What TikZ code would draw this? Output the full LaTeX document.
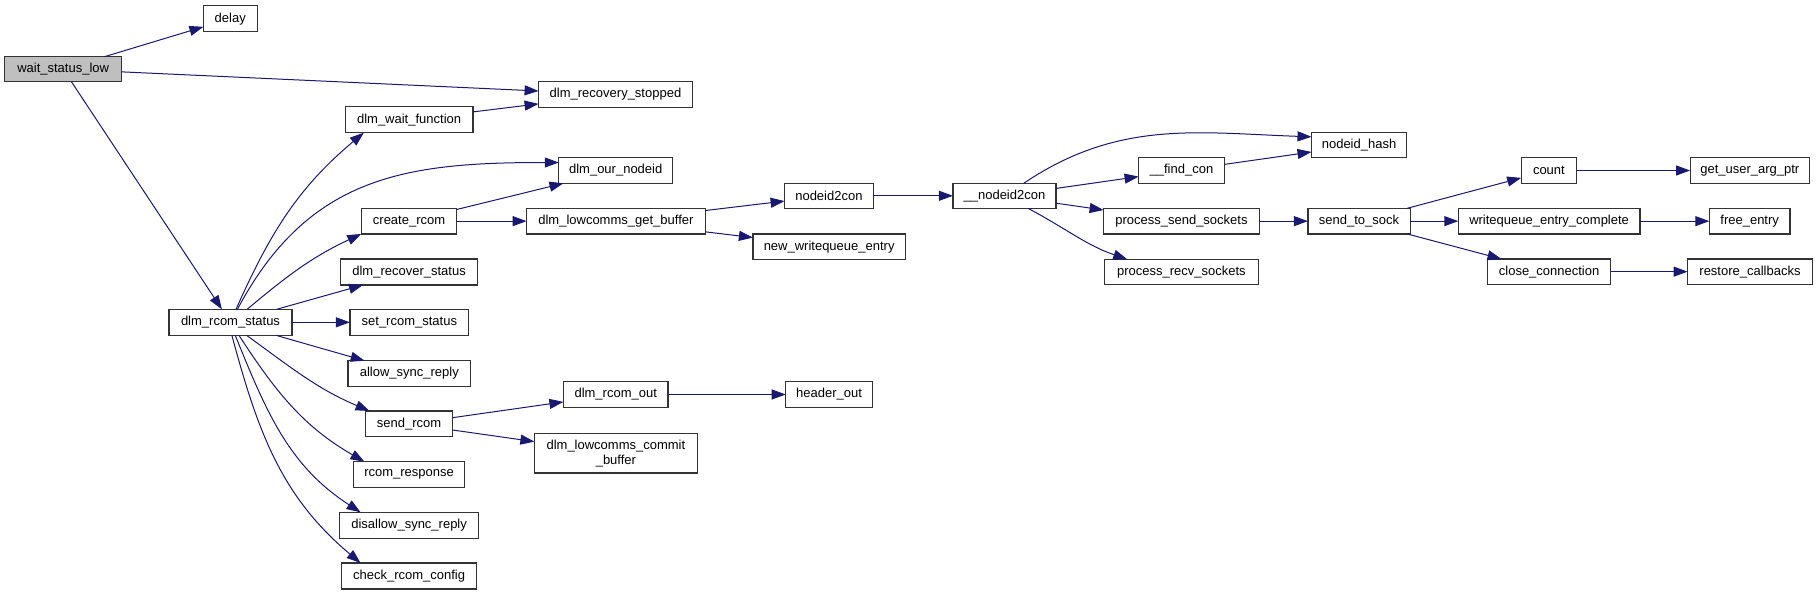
\documentclass[tikz,border=0pt]{standalone}
\usepackage{fontspec}
\setmainfont{Liberation Sans}
\usetikzlibrary{arrows.meta}
\definecolor{edgecol}{HTML}{191970}
\definecolor{boxline}{HTML}{333333}
\definecolor{rootfill}{HTML}{BFBFBF}
\tikzset{
  fnbox/.style={draw=boxline, line width=0.9pt, fill=white, inner sep=0pt, outer sep=0pt,
    font=\fontsize{9.75}{11.25}\selectfont, align=center},
  rootbox/.style={fnbox, fill=rootfill},
  edge/.style={draw=edgecol, line width=0.75pt, -{Triangle[length=10.5pt,width=7.5pt]}},
}
\newcommand\fn[7][]{\node[fnbox,#1, minimum width={(#5-#3)*0.75pt}, minimum height={(#6-#4)*0.75pt}] (#2) at ({(#3+#5)/2},{(#4+#6)/2}) {#7};}
\begin{document}
\begin{tikzpicture}[x=0.75pt,y=-0.75pt]
\useasboundingbox[fill=white] (0,0) rectangle (1817,595);
% nodes
\fn[rootbox]{wsl}{4.6}{56.7}{121.7}{81.7}{wait\_status\_low}
\fn{delay}{203.4}{5.7}{257.1}{31.7}{delay}
\fn{drs}{538.6}{81.7}{692.4}{107.3}{dlm\_recovery\_stopped}
\fn{dwf}{345.3}{106.7}{472.9}{132.7}{dlm\_wait\_function}
\fn{don}{558.8}{157.7}{672.6}{183.3}{dlm\_our\_nodeid}
\fn{cr}{361.3}{208.3}{456.8}{234}{create\_rcom}
\fn{dlgb}{526.6}{208.3}{705.2}{234}{dlm\_lowcomms\_get\_buffer}
\fn{drecs}{340.7}{259}{477.5}{285}{dlm\_recover\_status}
\fn{rcs}{169}{309.3}{292}{335.3}{dlm\_rcom\_status}
\fn{srs}{349.9}{309.3}{468.8}{335.3}{set\_rcom\_status}
\fn{asr}{348}{360.7}{470.6}{386.3}{allow\_sync\_reply}
\fn{sr}{365.5}{411}{452.7}{436.7}{send\_rcom}
\fn{dro}{563.4}{381.7}{668}{407.3}{dlm\_rcom\_out}
\fn{dlcb}{534.4}{433.3}{697.4}{473}{dlm\_lowcomms\_commit\\\_buffer}
\fn{rr}{353.5}{461.7}{464.6}{487.3}{rcom\_response}
\fn{dsr}{339.8}{512.3}{478.4}{538.3}{disallow\_sync\_reply}
\fn{crc}{341.6}{563}{476.6}{589}{check\_rcom\_config}
\fn{ho}{785.7}{381.7}{872.3}{407.3}{header\_out}
\fn{n2c}{784.6}{183.3}{873.2}{208.3}{nodeid2con}
\fn{nwe}{752.9}{234}{905.4}{259.3}{new\_writequeue\_entry}
\fn{un2c}{952.9}{183.3}{1056}{208.3}{\_\_nodeid2con}
\fn{fc}{1138.6}{157.7}{1224.3}{183.3}{\_\_find\_con}
\fn{pss}{1103.6}{208.3}{1259.3}{234}{process\_send\_sockets}
\fn{prs}{1104.6}{259.3}{1258.2}{284.3}{process\_recv\_sockets}
\fn{nh}{1311.5}{132.7}{1406.6}{157.7}{nodeid\_hash}
\fn{cnt}{1521.2}{157.7}{1576.6}{183.3}{count}
\fn{guap}{1690.1}{157.7}{1809.5}{183.3}{get\_user\_arg\_ptr}
\fn{sts}{1307.9}{208.3}{1410.2}{234}{send\_to\_sock}
\fn{wec}{1458.3}{208.3}{1639.9}{234}{writequeue\_entry\_complete}
\fn{fe}{1709.3}{208.3}{1790}{234}{free\_entry}
\fn{cc}{1487.6}{259}{1610.6}{284.3}{close\_connection}
\fn{rc}{1687.6}{259}{1812.4}{284.3}{restore\_callbacks}
% straight edges
\draw[edge] (wsl) -- (delay);
\draw[edge] (wsl) -- (drs);
\draw[edge] (wsl) -- (rcs);
\draw[edge] (dwf) -- (drs);
\draw[edge] (rcs) -- (drecs);
\draw[edge] (rcs) -- (srs);
\draw[edge] (rcs) -- (asr);
\draw[edge] (cr) -- (don);
\draw[edge] (cr) -- (dlgb);
\draw[edge] (dlgb) -- (n2c);
\draw[edge] (dlgb) -- (nwe);
\draw[edge] (n2c) -- (un2c);
\draw[edge] (un2c) -- (fc);
\draw[edge] (un2c) -- (pss);
\draw[edge] (fc) -- (nh);
\draw[edge] (pss) -- (sts);
\draw[edge] (sts) -- (cnt);
\draw[edge] (sts) -- (wec);
\draw[edge] (sts) -- (cc);
\draw[edge] (cnt) -- (guap);
\draw[edge] (wec) -- (fe);
\draw[edge] (cc) -- (rc);
\draw[edge] (sr) -- (dro);
\draw[edge] (sr) -- (dlcb);
\draw[edge] (dro) -- (ho);
% curved edges
\draw[edge] (rcs.67) to[out=66,in=220] (dwf.196.4);
\draw[edge] (rcs.62.4) to[out=62,in=180,looseness=1.1] (don.172.8);
\draw[edge] (rcs.38.7) to[out=40,in=205] (cr.195.5);
\draw[edge] (rcs.-39) to[out=-36,in=157] (sr.162.8);
\draw[edge] (rcs.-57.8) to[out=-57,in=150] (rr.164.5);
\draw[edge] (rcs.-70.9) to[out=-68,in=147] (dsr.165.7);
\draw[edge] (rcs.-84) to[out=-75,in=140] (crc.165.7);
\draw[edge] (un2c.33.8) to[out=34,in=178] (nh.170.5);
\draw[edge] (un2c.-28.1) to[out=-28,in=161] (prs.167.1);
\end{tikzpicture}
\end{document}
